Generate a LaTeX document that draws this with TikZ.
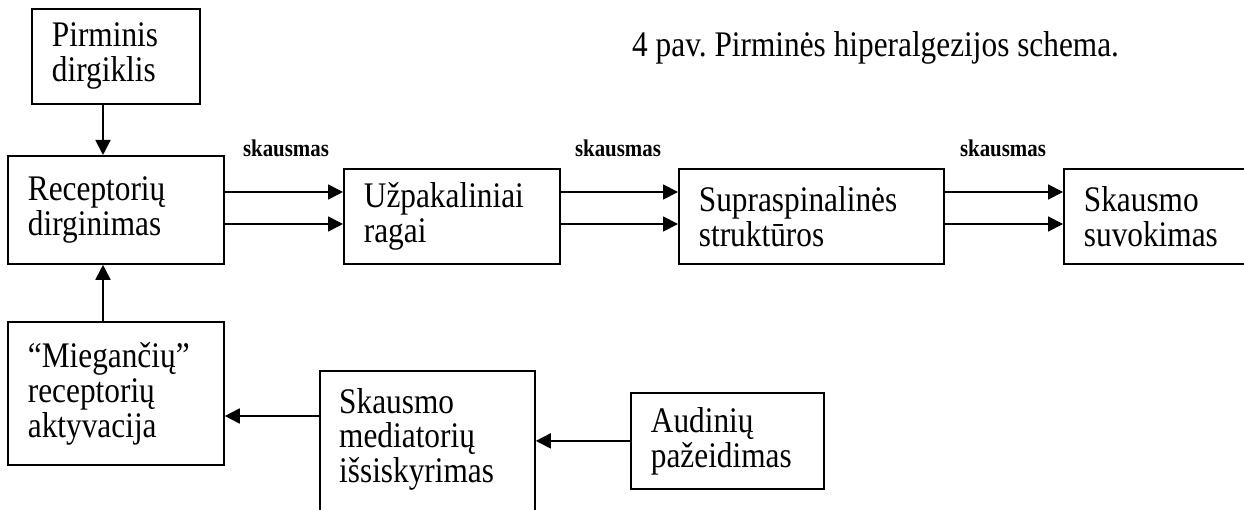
\documentclass[tikz,border=0pt]{standalone}
\usepackage{fontspec}
\setmainfont[FakeStretch=0.87]{Liberation Serif}
\usetikzlibrary{arrows.meta}
\tikzset{
  boxshape/.style={draw=black, line width=1.8pt, anchor=north west, align=left,
    inner xsep=20pt, inner ysep=0pt, font=\fontsize{36}{35}\selectfont},
  txt/.style={inner sep=0pt, align=left, font=\fontsize{36}{34.5}\selectfont},
  lbl/.style={inner sep=0pt, anchor=base, font=\fontsize{24}{26}\selectfont\bfseries},
  arr/.style={line width=1.8pt, -{Triangle[length=15pt,width=15pt]}}
}
\frenchspacing
\begin{document}
\begin{tikzpicture}[x=1pt,y=-1pt]
\clip (0,0) rectangle (1244,510);
\fill[white] (0,0) rectangle (1244,510);
% boxes
\node[boxshape, minimum width=168pt, minimum height=95pt, text width=128pt] (pd) at (31,8) {Pirminis\\dirgiklis};
\node[boxshape, minimum width=216pt, minimum height=108pt, text width=176pt] (rd) at (7,155) {Receptorių\\dirginimas};
\node[boxshape, minimum width=216pt, minimum height=95pt, text width=176pt] (up) at (343,168) {Užpakaliniai\\ragai};
\node[boxshape, minimum width=265pt, minimum height=95pt, text width=225pt] (ss) at (678,168) {Supraspinalinės\\struktūros};
\node[boxshape, minimum width=220pt, minimum height=95pt, text width=180pt] (sv) at (1063,168) {Skausmo\\suvokimas};
\node[boxshape, minimum width=216pt, minimum height=143pt, text width=176pt] (mr) at (7,321) {“Miegančių”\\receptorių\\aktyvacija};
\node[boxshape, minimum width=215pt, minimum height=180pt, text width=175pt] (med) at (319,370) {};
\node[txt, anchor=north west, text width=185pt] (medt) at ([xshift=20pt,yshift=-18pt]med.north west) {Skausmo\\mediatorių\\išsiskyrimas};
\node[boxshape, minimum width=193pt, minimum height=96pt, text width=153pt] (aud) at (630,392) {Audinių\\pažeidimas};
% caption
\node[txt, anchor=base west] (cap) at (632,57) {4 pav. Pirminės hiperalgezijos schema.};
% labels
\node[lbl] (l1) at (286,157) {skausmas};
\node[lbl] (l2) at (618,157) {skausmas};
\node[lbl] (l3) at (1003,157) {skausmas};
% level coordinates
\coordinate (ya) at (0,192);
\coordinate (yb) at (0,224);
\coordinate (xa) at (103,0);
\coordinate (yc) at (0,416);
% arrows
\draw[arr] (pd.south -| xa) -- (rd.north -| xa);
\draw[arr] (mr.north -| xa) -- (rd.south -| xa);
\draw[arr] (rd.east |- ya) -- (up.west |- ya);
\draw[arr] (rd.east |- yb) -- (up.west |- yb);
\draw[arr] (up.east |- ya) -- (ss.west |- ya);
\draw[arr] (up.east |- yb) -- (ss.west |- yb);
\draw[arr] (ss.east |- ya) -- (sv.west |- ya);
\draw[arr] (ss.east |- yb) -- (sv.west |- yb);
\draw[arr] (med.west |- yc) -- (mr.east |- yc);
\draw[arr] (aud.west) -- (aud.west -| med.east);
\end{tikzpicture}
\end{document}
